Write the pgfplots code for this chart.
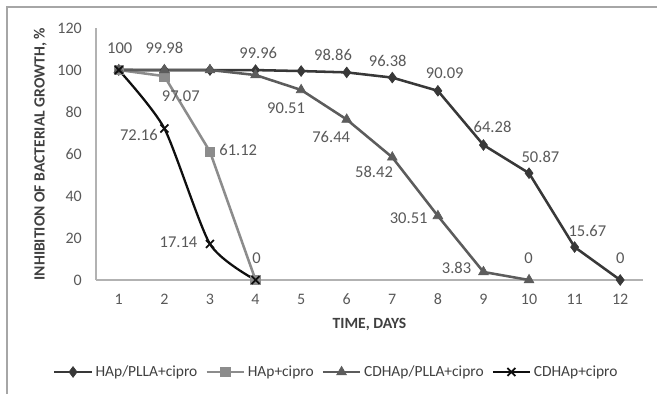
\documentclass[border=0pt]{standalone}
\usepackage{fontspec}
\setmainfont{Carlito}
\usepackage{pgfplots}
\pgfplotsset{compat=1.18}
\definecolor{cA}{HTML}{383838}
\definecolor{cB}{HTML}{8C8C8C}
\definecolor{cC}{HTML}{5C5C5C}
\definecolor{cD}{HTML}{0F0F0F}
\definecolor{txt}{HTML}{595959}
\definecolor{ttl}{HTML}{404040}
\begin{document}
\begin{tikzpicture}
\useasboundingbox (0pt,0pt) rectangle (492.75pt,295.5pt);
\draw[color=black!35, line width=1pt] (5.25pt,0pt) -- (5.25pt,290.25pt) -- (492.75pt,290.25pt);
\begin{axis}[
  at={(72pt,85.5pt)}, anchor=south west,
  width=410.25pt, height=189pt, scale only axis,
  xmin=0.5, xmax=12.5, ymin=0, ymax=120,
  xtick={1,...,12}, ytick={0,20,...,120},
  axis x line*=bottom, axis y line*=left,
  axis line style={color=black!30, line width=0.8pt},
  major tick length=0pt,
  /pgf/number format/assume math mode=true,
  tick label style={font=\fontsize{12}{14}\selectfont, color=txt},
  xticklabel style={inner sep=0pt, anchor=center, yshift=-14.25pt},
  yticklabel style={inner sep=0pt, anchor=east, xshift=-10.5pt},
  xlabel={TIME, DAYS},
  ylabel={INHIBITION OF BACTERIAL GROWTH, \%},
  xlabel style={at={(axis description cs:0.5,-0.175)}, anchor=center, font=\bfseries\fontsize{11.7}{13}\selectfont, color=ttl},
  ylabel style={at={(axis description cs:-0.102,0.5)}, anchor=center, rotate=0, font=\bfseries\fontsize{11.7}{13}\selectfont, color=ttl},
  legend style={at={(0.44,-0.365)}, anchor=center, draw=none, fill=none,
    font=\fontsize{11.6}{13}\selectfont, text=ttl,
    /tikz/every even column/.append style={column sep=4pt},
    /tikz/every odd column/.append style={column sep=0pt}},
  legend columns=-1,
  legend cell align=left,
  legend image code/.code={\draw[mark repeat=2,mark phase=2] plot coordinates {(0cm,0cm) (0.49cm,0cm) (0.98cm,0cm)};},
  clip=false,
]
\addplot[color=cA, line width=1.9pt, mark=diamond*, mark size=4pt, mark options={solid, fill=cA, line width=0.5pt}]
  coordinates {(1,100) (2,99.98) (3,99.99) (4,99.96) (5,99.5) (6,98.86) (7,96.38) (8,90.09) (9,64.28) (10,50.87) (11,15.67) (12,0)};
\addlegendentry{HAp/PLLA+cipro}
\addplot[color=cB, line width=1.9pt, mark=square*, mark size=3.6pt, mark options={solid, fill=cB, line width=0.5pt}]
  coordinates {(1,100) (2,97.07) (3,61.12) (4,0)};
\addlegendentry{HAp+cipro}
\addplot[color=cC, line width=1.9pt, mark=triangle*, mark size=4.2pt, mark options={solid, fill=cC, line width=0.5pt}]
  coordinates {(1,100) (2,100) (3,100) (4,97.6) (5,90.51) (6,76.44) (7,58.42) (8,30.51) (9,3.83) (10,0)};
\addlegendentry{CDHAp/PLLA+cipro}
\addplot[color=cD, line width=1.7pt, smooth, tension=0.4, mark=x, mark size=4.2pt, mark options={solid, line width=1.3pt}]
  coordinates {(1,100) (2,72.16) (3,17.14) (4,0)};
\addlegendentry{CDHAp+cipro}
\tikzset{lbl/.style={font=\fontsize{12.4}{14}\selectfont, text=txt, inner sep=0pt, anchor=center}}
\node[lbl] at (axis cs:1.02,110.5) {100};
\node[lbl] at (axis cs:2.0,110.5) {99.98};
\node[lbl] at (axis cs:4.06,108) {99.96};
\node[lbl] at (axis cs:5.70,107) {98.86};
\node[lbl] at (axis cs:6.90,104.3) {96.38};
\node[lbl] at (axis cs:8.15,98.6) {90.09};
\node[lbl] at (axis cs:9.20,72.9) {64.28};
\node[lbl] at (axis cs:10.25,58.6) {50.87};
\node[lbl] at (axis cs:11.28,23.3) {15.67};
\node[lbl] at (axis cs:12.0,10.5) {0};
\node[lbl] at (axis cs:9.99,10.5) {0};
\node[lbl] at (axis cs:4.02,10.5) {0};
\node[lbl] at (axis cs:2.36,87.6) {97.07};
\node[lbl] at (axis cs:3.62,61.9) {61.12};
\node[lbl] at (axis cs:4.67,81.9) {90.51};
\node[lbl] at (axis cs:5.66,68.1) {76.44};
\node[lbl] at (axis cs:6.60,51.4) {58.42};
\node[lbl] at (axis cs:7.36,29.5) {30.51};
\node[lbl] at (axis cs:8.41,5.7) {3.83};
\node[lbl] at (axis cs:1.44,69.0) {72.16};
\node[lbl] at (axis cs:2.31,18.1) {17.14};
\end{axis}
\end{tikzpicture}
\end{document}
